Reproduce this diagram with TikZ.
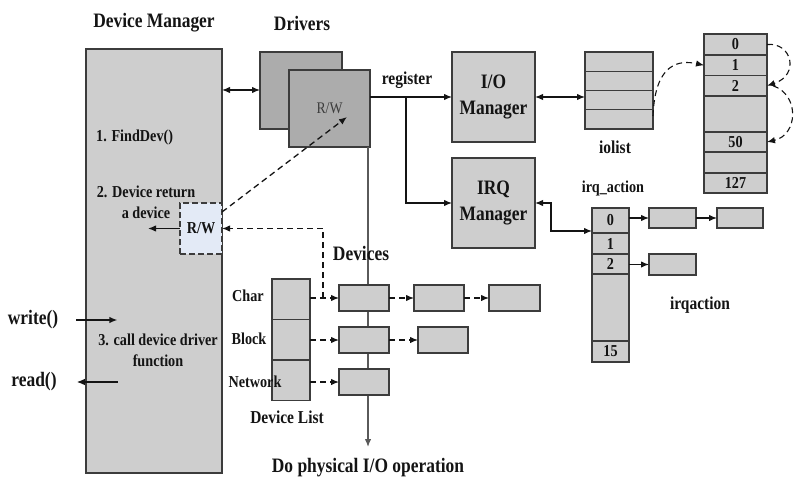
\documentclass[tikz,border=0pt]{standalone}
\usepackage{fontspec}
\setmainfont{Liberation Serif}[FakeStretch=0.85]
\usetikzlibrary{arrows.meta}

\definecolor{boxfill}{RGB}{206,206,206}
\definecolor{drvfill}{RGB}{172,172,172}
\definecolor{edge}{RGB}{60,60,60}
\definecolor{ink}{RGB}{20,20,20}
\definecolor{rwfill}{RGB}{227,234,246}
\definecolor{vline}{RGB}{90,90,90}

\tikzset{
  box/.style={draw=edge, fill=boxfill, line width=1.4pt, anchor=north west,
              inner sep=0pt, outer sep=0pt},
  big/.style={font=\fontsize{20.5}{26}\selectfont\bfseries, text=ink, inner sep=0pt},
  mid/.style={font=\fontsize{18.2}{22}\selectfont\bfseries, text=ink, inner sep=0pt},
  small/.style={font=\fontsize{16.7}{21}\selectfont\bfseries, text=ink, inner sep=0pt},
  tip/.tip={Latex[length=8pt,width=6.5pt]},
  link/.style={draw=ink, line width=1.3pt, -tip},
  twoway/.style={draw=ink, line width=1.3pt, tip-tip},
  dlink/.style={link, dash pattern=on 6pt off 4pt},
}

\begin{document}
\begin{tikzpicture}[x=1pt, y=-1pt]
\useasboundingbox (0,0) rectangle (794,476);

% ---- titles ----
\node[big] (tdm) at (154,23) {Device Manager};
\node[big] (tdrv) at (302,23) {Drivers};

% ---- device manager ----
\node[box, minimum width=136pt, minimum height=424pt] (dm) at (86,49) {};
\node[small, anchor=west] (s1) at (96,137) {1. FindDev()};
\node[small, align=center] (s2) at (146,202) {2. Device return\\a device};
\node[small, align=center] (s3) at (158,350) {3. call device driver\\function};
\node[box, fill=rwfill, dash pattern=on 6pt off 3pt, small,
      minimum width=42pt, minimum height=51pt] (rw) at (180,203) {R/W};

% ---- drivers ----
\node[box, fill=drvfill, minimum width=82pt, minimum height=77pt] (drvback) at (260,52) {};
\node[box, fill=drvfill, minimum width=81pt, minimum height=77pt,
      font=\fontsize{16.2}{18}\selectfont, text=edge] (drvfront) at (289,70) {R/W};

% vertical path from the drivers down to the hardware
\coordinate (vtop) at (368,147);
\coordinate (vbot) at (368,447);
\draw[draw=vline, line width=1.3pt, -tip] (vtop) -- (vbot);
\node[big] (phys) at (368,468) {Do physical I/O operation};

% ---- managers ----
\node[box, big, align=center, minimum width=83pt, minimum height=90pt] (iom) at (452,52) {I/O\\Manager};
\node[box, big, align=center, minimum width=83pt, minimum height=90pt] (irqm) at (452,158) {IRQ\\Manager};
\node[mid] (treg) at (407,80) {register};

% ---- iolist ----
\node[box, minimum width=68pt, minimum height=19.25pt] (io1) at (585,52) {};
\node[box, minimum width=68pt, minimum height=19.25pt] (io2) at (585,71.25) {};
\node[box, minimum width=68pt, minimum height=19.25pt] (io3) at (585,90.5) {};
\node[box, minimum width=68pt, minimum height=19.25pt] (io4) at (585,109.75) {};
\node[mid] (tio) at (615,147) {iolist};

% ---- io vector table ----
\node[box, small, minimum width=63pt, minimum height=21pt] (a0) at (704,34) {0};
\node[box, small, minimum width=63pt, minimum height=20.5pt] (a1) at (704,55) {1};
\node[box, small, minimum width=63pt, minimum height=20.5pt] (a2) at (704,75.5) {2};
\node[box, minimum width=63pt, minimum height=36pt] (ag) at (704,96) {};
\node[box, small, minimum width=63pt, minimum height=20pt] (a50) at (704,132) {50};
\node[box, minimum width=63pt, minimum height=21pt] (ae) at (704,152) {};
\node[box, small, minimum width=63pt, minimum height=20pt] (a127) at (704,173) {127};

% ---- irq_action table ----
\node[small] (tirq) at (613,188) {irq\_action};
\node[box, small, minimum width=37pt, minimum height=25pt] (q0) at (592,208) {0};
\node[box, small, minimum width=37pt, minimum height=21pt] (q1) at (592,233) {1};
\node[box, small, minimum width=37pt, minimum height=20pt] (q2) at (592,254) {2};
\node[box, minimum width=37pt, minimum height=67pt] (qg) at (592,274) {};
\node[box, small, minimum width=37pt, minimum height=21pt] (q15) at (592,341) {15};

\node[box, minimum width=47pt, minimum height=20pt] (ia1) at (649,208) {};
\node[box, minimum width=46pt, minimum height=20pt] (ia2) at (717,208) {};
\node[box, minimum width=47pt, minimum height=21pt] (ia3) at (649,254) {};
\node[mid] (tia) at (700,305) {irqaction};

% ---- devices ----
\node[big] (tdev) at (361,253) {Devices};
\node[box, minimum width=50pt, minimum height=26pt] (d11) at (339,285) {};
\node[box, minimum width=50pt, minimum height=26pt] (d12) at (414,285) {};
\node[box, minimum width=51pt, minimum height=26pt] (d13) at (489,285) {};
\node[box, minimum width=50pt, minimum height=26pt] (d21) at (339,327) {};
\node[box, minimum width=50pt, minimum height=26pt] (d22) at (418,327) {};
\node[box, minimum width=50pt, minimum height=26pt] (d31) at (339,369) {};

% ---- device list ----
\node[box, minimum width=38pt, minimum height=40.4pt] (dl1) at (272,279) {};
\node[box, minimum width=38pt, minimum height=40.4pt] (dl2) at (272,319.4) {};
\node[box, minimum width=38pt, minimum height=40.4pt] (dl3) at (272,359.8) {};
\node[small] (tchar) at (248,296) {Char};
\node[small] (tblock) at (249,339) {Block};
\node[small] (tnet) at (255,382) {Network};
\node[mid] (tdl) at (287,417) {Device List};

% ---- user calls ----
\node[big] (twrite) at (33,320) {write()};
\node[big] (tread) at (34,382) {read()};
\draw[link] ([xshift=18pt]twrite.east) -- ++(41,0);
\draw[link] ([xshift=61pt]tread.east) -- ++(-41,0);

% ---- connectors ----
\coordinate (y90) at (0,90);
\draw[twoway] (dm.east |- y90) -- (drvback.west |- y90);

\coordinate (rwtip) at (347,117);
\coordinate (rwfrom) at (222,212);
\draw[dlink] (rwfrom) -- (rwtip);
\coordinate (rwout) at (148,228.5);
\draw[link] (rw.west) -- (rwout);

\draw[link] (drvfront.east |- iom.west) -- (iom.west);
\coordinate (br) at (406,97);
\draw[link] (br) |- (irqm.west);

\draw[twoway] (iom.east) -- (iom.east -| io3.west);

\coordinate (c1) at (653,116);
\draw[dlink, line width=1.1pt] (c1) .. controls (655,62) and (680,60) .. (a1.west);
\draw[dlink, line width=1.1pt] (a0.east) .. controls (792,42) and (800,75) .. (a2.east);
\draw[dlink, line width=1.1pt] ([xshift=6pt]a2.east) .. controls (800,95) and (798,135) .. (a50.east);

\draw[twoway] (irqm.east) -- ++(16,0) |- ([yshift=2pt]q0.south west);
\draw[link] (q0.east |- ia1.west) -- (ia1.west);
\draw[link] (ia1.east) -- (ia2.west);
\draw[link] (q2.east |- ia3.west) -- (ia3.west);

\draw[dlink] (dl1.east |- d11.west) -- (d11.west);
\draw[dlink] (dl2.east |- d21.west) -- (d21.west);
\draw[dlink] (dl3.east |- d31.west) -- (d31.west);
\draw[dlink] (d11.east) -- (d12.west);
\draw[dlink] (d12.east) -- (d13.west);
\draw[dlink] (d21.east) -- (d22.west);
\draw[dlink] ([xshift=-16pt]d11.west) |- (rw.east);
\end{tikzpicture}
\end{document}
